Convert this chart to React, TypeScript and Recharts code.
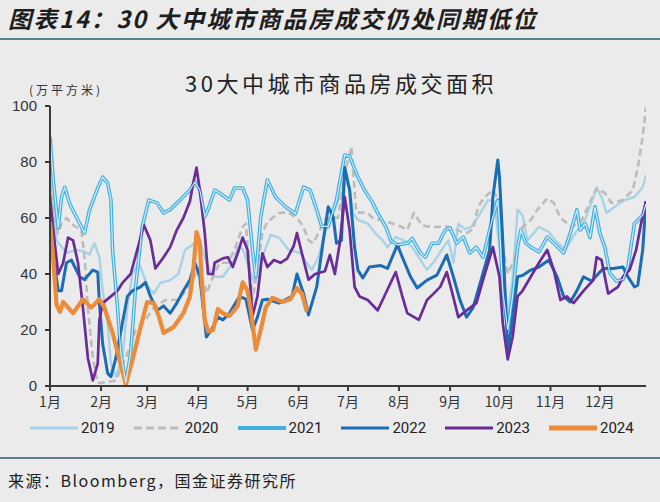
import { LineChart, Line, XAxis, YAxis } from 'recharts';

// day-of-year positions and values (万平方米)
const days2019 = [0, 2, 4, 10, 16, 21, 24, 27, 30, 32, 35, 37, 40, 44, 47, 50, 54, 59, 63, 67, 73, 78, 82, 88, 92, 95, 99, 105, 111, 114, 117, 120, 124, 129, 134, 139, 145, 152, 159, 163, 167, 172, 177, 180, 182, 184, 187, 193, 197, 202, 205, 210, 215, 220, 224, 229, 234, 239, 242, 245, 248, 252, 256, 260, 266, 270, 272, 275, 278, 281, 284, 287, 290, 297, 303, 307, 313, 319, 325, 332, 335, 338, 343, 349, 355, 360, 362];
const vals2019 = [74, 62, 52, 47.5, 48.6, 48, 47, 51, 46, 34, 22.5, 8, 3.3, 10, 28, 40, 44, 36, 33, 36.8, 37.8, 40, 48.6, 51, 50, 44, 39, 39, 44, 49.6, 49, 44, 37, 46, 54, 53, 48.6, 47.5, 41.4, 46, 54.6, 61.8, 68.9, 73, 71, 61.8, 59.3, 58, 55, 52, 49.6, 53.2, 52, 49.6, 46, 41.4, 45, 49.6, 52, 44, 58, 56, 56.8, 60.4, 66.4, 66, 54.6, 40, 26, 38, 63, 61, 52, 56.8, 55, 52, 48.6, 54.6, 59.3, 70.7, 67.5, 61.8, 64, 66.4, 67.5, 71, 75.4];

const days2020 = [0, 3, 5, 7, 10, 14, 19, 21, 23, 26, 29, 36, 40, 46, 52, 58, 63, 70, 78, 84, 91, 95, 99, 103, 108, 112, 117, 119, 120, 123, 125, 129, 132, 139, 145, 151, 154, 157, 160, 163, 167, 171, 175, 179, 182, 183, 186, 193, 196, 202, 208, 213, 217, 221, 223, 226, 229, 235, 241, 247, 253, 257, 260, 264, 269, 271, 275, 278, 282, 287, 292, 296, 302, 306, 310, 317, 323, 332, 337, 341, 348, 354, 357, 360, 362];
const vals2020 = [72.5, 58, 54.6, 58, 60, 57.5, 55.7, 46, 28, 10, 1, 1.5, 2, 10, 20, 23.6, 28, 30.7, 30.7, 35.4, 42.5, 33, 39, 44, 44, 48.6, 56.8, 58, 50, 30.7, 38, 54.6, 58.6, 61.8, 62, 59.3, 56.8, 52, 51, 54.6, 59.3, 60.4, 60, 76, 83, 85.4, 62, 61.8, 60, 59, 58, 57, 55.7, 61.8, 60, 57.5, 57, 56.8, 57, 55.7, 54.6, 56, 64, 67.5, 70, 68, 50, 40, 45, 56.8, 59.3, 63, 67, 65.4, 60, 56.8, 59.3, 70.7, 68.9, 65.4, 66.4, 70, 78, 89, 99.6];

const days2021 = [0, 2, 5, 7, 9, 12, 16, 21, 24, 29, 32, 35, 37, 38, 41, 43, 46, 49, 52, 56, 60, 65, 69, 73, 79, 85, 88, 91, 94, 96, 100, 103, 109, 112, 117, 120, 123, 125, 128, 132, 137, 143, 149, 154, 158, 162, 165, 169, 174, 179, 182, 187, 191, 196, 199, 204, 207, 211, 217, 220, 225, 228, 232, 236, 240, 243, 247, 251, 255, 259, 263, 266, 269, 272, 273, 275, 278, 281, 284, 286, 289, 292, 297, 302, 306, 312, 316, 320, 322, 325, 328, 331, 334, 337, 340, 344, 348, 351, 355, 360, 362];
const vals2021 = [89, 73.6, 56.4, 67.5, 71, 65, 60.4, 54.6, 62.9, 70.7, 74.6, 72.5, 66.4, 48.6, 28, 11.8, 1, 11.8, 35.4, 56.8, 66.4, 65.4, 61.8, 63, 66.4, 70, 72.9, 70, 60.4, 63, 70, 68.9, 66.4, 70.7, 70.7, 66.4, 48.6, 39, 60.4, 73.6, 67.5, 64, 61.5, 71, 70, 62.9, 57, 57, 66.4, 82.5, 82, 74.6, 70, 65.4, 61.8, 56.8, 52, 50.4, 51, 52.7, 47.5, 46, 51, 51, 55.7, 56.5, 51, 53.2, 47.5, 49.6, 46, 53.2, 60.4, 66.4, 58, 34, 20, 32, 49.6, 55.7, 51, 49.6, 47.9, 53.2, 51, 47.5, 54.6, 62.9, 55.7, 58, 53, 64, 54.6, 49.6, 40.3, 37.5, 38, 42.5, 58, 61, 65];

const days2022 = [0, 2, 5, 7, 10, 13, 18, 21, 26, 29, 30, 32, 35, 37, 40, 44, 47, 50, 55, 58, 61, 65, 69, 73, 77, 81, 85, 88, 91, 93, 95, 98, 102, 105, 109, 115, 119, 123, 126, 129, 132, 139, 147, 150, 154, 157, 162, 166, 169, 172, 174, 177, 179, 182, 185, 187, 190, 194, 201, 205, 211, 214, 219, 223, 229, 235, 241, 245, 249, 253, 257, 263, 267, 269, 272, 273, 275, 278, 280, 284, 287, 292, 297, 303, 308, 312, 316, 320, 324, 329, 336, 342, 348, 351, 355, 357, 360, 362];
const vals2022 = [61, 46, 34, 34, 44, 45, 39, 38, 41.4, 40.7, 29.6, 15, 4.6, 3.3, 10, 22.5, 32, 34, 35.4, 37, 32, 27, 28.6, 26, 29.6, 34, 37.8, 44, 39, 28, 17.5, 20, 24.6, 23.6, 26, 32, 31, 20, 24.6, 30.7, 31, 29.6, 32, 40, 33, 25.4, 35.4, 52, 64, 60.4, 51, 52, 78, 70, 49.6, 41.4, 38.6, 42.5, 43, 42, 50.4, 46, 39, 35, 37.8, 39.6, 46.8, 39, 30.7, 24.6, 28, 40.3, 48.6, 67.5, 80.7, 74.6, 52, 12.9, 20, 39, 39.5, 41.4, 42.5, 45, 39, 32, 30, 34, 39, 37.5, 42, 42, 42.5, 39, 35.4, 36, 48.6, 66];

const days2023 = [0, 2, 5, 8, 11, 14, 17, 20, 23, 26, 29, 30, 32, 37, 41, 44, 49, 53, 57, 61, 64, 69, 73, 77, 81, 85, 87, 89, 91, 94, 96, 99, 100, 105, 108, 111, 114, 117, 120, 123, 126, 129, 132, 136, 140, 144, 148, 150, 153, 157, 161, 167, 170, 173, 176, 179, 182, 185, 188, 193, 199, 202, 210, 214, 217, 224, 229, 233, 237, 241, 244, 248, 253, 259, 263, 269, 273, 275, 278, 281, 284, 287, 292, 297, 302, 306, 310, 314, 318, 324, 330, 332, 335, 339, 345, 348, 352, 356, 359, 362];
const vals2023 = [67.5, 55.7, 40, 44, 53, 52, 44, 28, 10, 2, 8, 23.6, 29.6, 32, 34, 36.8, 40, 48.6, 57.5, 52, 42, 46, 49.6, 55.7, 60, 66, 72.5, 78, 70, 54.6, 40, 40, 44, 45.6, 46, 42.5, 47.4, 53, 48.6, 25, 32, 47.4, 42.5, 45, 44, 45.5, 50, 54.6, 47.4, 38, 40, 41, 46.8, 40, 51, 67.5, 55.7, 35.4, 32, 30.7, 27, 30.7, 40.7, 32, 26, 23.6, 30.7, 33, 35.4, 40.7, 34, 24.6, 27, 29.6, 37.8, 49.6, 39, 22.5, 9.5, 17.5, 32, 34, 39, 44, 48.6, 41.4, 30.7, 32, 29.6, 34, 37.8, 46, 45, 33, 35.4, 39, 41.4, 48.6, 58, 66];

const days2024 = [0, 2, 4, 6, 8, 14, 20, 25, 30, 33, 38, 45, 46, 50, 55, 59, 63, 66, 69, 75, 81, 85, 87, 89, 91, 92, 94, 96, 99, 102, 105, 109, 114, 117, 120, 122, 125, 128, 131, 135, 141, 146, 150, 153, 156];
const vals2024 = [58.6, 45, 29, 26.5, 30, 26, 31, 28, 31, 28, 19, 3, 0.5, 9, 21, 30, 29.6, 25, 19, 21, 26, 32, 41, 55, 51, 39, 23.6, 19.5, 20, 27.5, 26, 25, 28.6, 37, 34, 27, 13, 20, 28, 31.5, 30, 31, 35, 33, 26.5];

const monthTicks = [0, 31, 59, 90, 120, 151, 181, 212, 243, 273, 304, 334];
const monthLabels = ['1月', '2月', '3月', '4月', '5月', '6月', '7月', '8月', '9月', '10月', '11月', '12月'];
const yTicks = [0, 20, 40, 60, 80, 100];

const toPoints = (days: number[], vals: number[]) => days.map((day, i) => ({ day, v: vals[i] }));

const series = [
  { name: '2019', data: toPoints(days2019, vals2019), color: '#a8d2e6', width: 2.4 },
  { name: '2020', data: toPoints(days2020, vals2020), color: '#bcbcbc', width: 2.6, dash: '7 4' },
  { name: '2021', data: toPoints(days2021, vals2021), color: '#43b0de', width: 3.6 },
  { name: '2022', data: toPoints(days2022, vals2022), color: '#1b6cb2', width: 3 },
  { name: '2023', data: toPoints(days2023, vals2023), color: '#6a2c98', width: 2.7 },
  { name: '2024', data: toPoints(days2024, vals2024), color: '#ec8c3b', width: 4.2 },
];

const CJK = '"Noto Sans CJK SC", "Noto Sans", sans-serif';
const LATIN = '"Liberation Sans", Arial, sans-serif';

function LegendRow() {
  return (
    <div style={{ position: 'absolute', top: 418, left: 0, width: 660, height: 20 }}>
      {series.map((s, i) => (
        <div
          key={s.name}
          style={{ position: 'absolute', left: 30 + i * 103.8, top: 0, display: 'flex', alignItems: 'center', height: 20 }}
        >
          <svg width={48} height={10}>
            <line
              x1={0}
              y1={5}
              x2={48}
              y2={5}
              stroke={s.color}
              strokeWidth={s.name === '2024' ? 5 : s.name === '2021' ? 4 : 3}
              strokeDasharray={s.dash ? '8 4' : undefined}
            />
          </svg>
          <span style={{ marginLeft: 3, fontSize: 15, fontFamily: 'Roboto, ' + LATIN, color: '#222' }}>{s.name}</span>
        </div>
      ))}
    </div>
  );
}

export default function App() {
  return (
    <div
      style={{
        position: 'absolute',
        left: 0,
        top: 0,
        width: 660,
        height: 502,
        background: '#ebebeb',
        overflow: 'hidden',
        fontFamily: CJK,
      }}
    >
      <div
        style={{
          position: 'absolute',
          left: 8,
          top: 3,
          fontSize: 23.5,
          lineHeight: '30px',
          fontWeight: 700,
          fontStyle: 'italic',
          letterSpacing: 2,
          color: '#1e1e1e',
          whiteSpace: 'nowrap',
        }}
      >
        图表14：30 大中城市商品房成交仍处同期低位
      </div>
      <div style={{ position: 'absolute', left: 0, top: 38, width: 660, height: 2, background: '#5d7f8d' }} />

      <div
        style={{
          position: 'absolute',
          left: 185,
          top: 66,
          fontSize: 22,
          lineHeight: '32px',
          letterSpacing: 3.5,
          color: '#222',
          whiteSpace: 'nowrap',
        }}
      >
        30大中城市商品房成交面积
      </div>
      <div
        style={{
          position: 'absolute',
          left: 29,
          top: 81,
          fontSize: 12,
          lineHeight: '18px',
          letterSpacing: 3,
          color: '#333',
          whiteSpace: 'nowrap',
        }}
      >
        (万平方米)
      </div>

      <div style={{ position: 'absolute', left: 0, top: 96 }}>
        <LineChart width={660} height={330} margin={{ top: 10, right: 14, bottom: 10, left: 0 }}>
          <XAxis
            dataKey="day"
            type="number"
            domain={[0, 362]}
            ticks={monthTicks}
            interval={0}
            allowDataOverflow
            tickFormatter={(v: number) => monthLabels[monthTicks.indexOf(v)]}
            height={30}
            tickSize={5}
            tickMargin={6}
            stroke="#3a3a3a"
            strokeWidth={2}
            tick={{ fill: '#333', fontSize: 14, fontFamily: CJK }}
          />
          <YAxis
            type="number"
            domain={[0, 100]}
            ticks={yTicks}
            interval={0}
            width={50}
            tickSize={5}
            tickMargin={8}
            stroke="#3a3a3a"
            strokeWidth={2}
            tick={{ fill: '#333', fontSize: 15, fontFamily: LATIN }}
          />
          {series.map((s) => (
            <Line
              key={s.name}
              data={s.data}
              dataKey="v"
              name={s.name}
              type="linear"
              stroke={s.color}
              strokeWidth={s.width}
              strokeDasharray={s.dash}
              strokeLinejoin="round"
              dot={false}
              activeDot={false}
              isAnimationActive={false}
            />
          ))}
          <Line
            data={series[2].data}
            dataKey="v"
            name="2021-inner"
            legendType="none"
            type="linear"
            stroke="#cdebf7"
            strokeWidth={1.2}
            dot={false}
            activeDot={false}
            isAnimationActive={false}
          />
        </LineChart>
      </div>

      <LegendRow />

      <div style={{ position: 'absolute', left: 0, top: 457, width: 660, height: 2, background: '#5d7f8d' }} />
      <div
        style={{
          position: 'absolute',
          left: 8,
          top: 468,
          fontSize: 16,
          lineHeight: '24px',
          letterSpacing: 1.5,
          color: '#222',
          whiteSpace: 'nowrap',
        }}
      >
        来源：Bloomberg，国金证券研究所
      </div>
    </div>
  );
}
